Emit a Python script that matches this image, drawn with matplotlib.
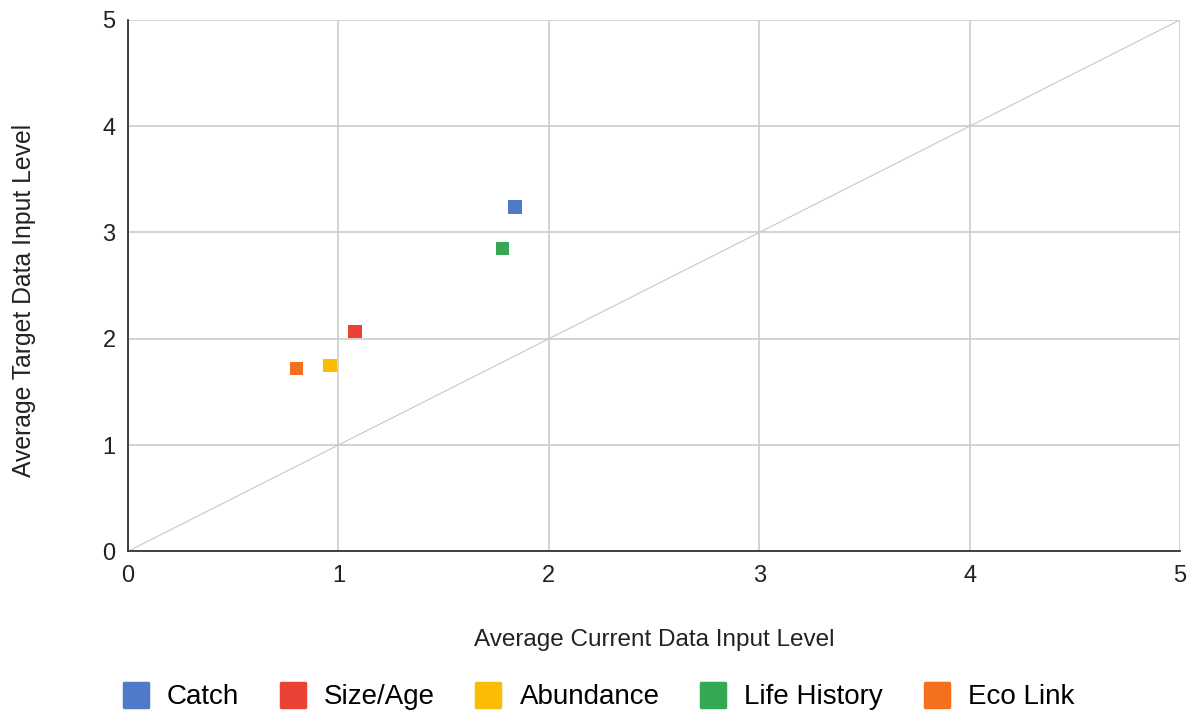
import matplotlib.pyplot as plt
from matplotlib.lines import Line2D
from matplotlib.markers import MarkerStyle

plt.rcParams['font.family'] = ['Liberation Sans', 'DejaVu Sans']

# data
categories = ['Catch', 'Size/Age', 'Abundance', 'Life History', 'Eco Link']
current_level = [1.84, 1.08, 0.96, 1.78, 0.80]
target_level = [3.24, 2.07, 1.75, 2.85, 1.72]
colors = ['#4e7ac7', '#ea4335', '#fbbc04', '#34a853', '#f4701f']
ticks = [0, 1, 2, 3, 4, 5]

fig = plt.figure(figsize=(11.92, 7.13), dpi=100)
ax = fig.add_axes([0.1074, 0.2268, 0.8826, 0.7452])

# reference line y = x
ax.plot([0, 5], [0, 5], color='#c8c8c8', linewidth=0.8, zorder=1)

for cat, x, y, c in zip(categories, current_level, target_level, colors):
    ax.scatter([x], [y], marker='s', s=95, color=c, edgecolors='none', zorder=3, label=cat)

ax.set_xlim(0, 5)
ax.set_ylim(0, 5)
ax.set_xticks(ticks)
ax.set_yticks(ticks)
ax.grid(True, color='#cccccc', linewidth=1.2)
ax.set_axisbelow(True)
ax.tick_params(length=0, labelsize=17, colors='#222222')
ax.tick_params(axis='x', pad=10)
ax.tick_params(axis='y', pad=9)
for s in ['top', 'right']:
    ax.spines[s].set_visible(False)
for s in ['left', 'bottom']:
    ax.spines[s].set_color('#333333')
    ax.spines[s].set_linewidth(1.3)

ax.set_xlabel('Average Current Data Input Level', fontsize=17.5, color='#222222', labelpad=30)
ax.set_ylabel('Average Target Data Input Level', fontsize=17.8, color='#222222', labelpad=48)
ax.yaxis.label.set_y(0.473)

sq = MarkerStyle('s', joinstyle='round')
handles = [Line2D([0], [0], marker=sq, linestyle='none', markersize=17,
                  markerfacecolor=c, markeredgecolor=c, markeredgewidth=2.5) for c in colors]
fig.legend(handles, categories, loc='center', bbox_to_anchor=(0.502, 0.022),
           ncol=5, frameon=False, fontsize=20, handletextpad=0.65, columnspacing=1.45,
           handlelength=0.95)

fig.savefig('out.png', dpi=100)
